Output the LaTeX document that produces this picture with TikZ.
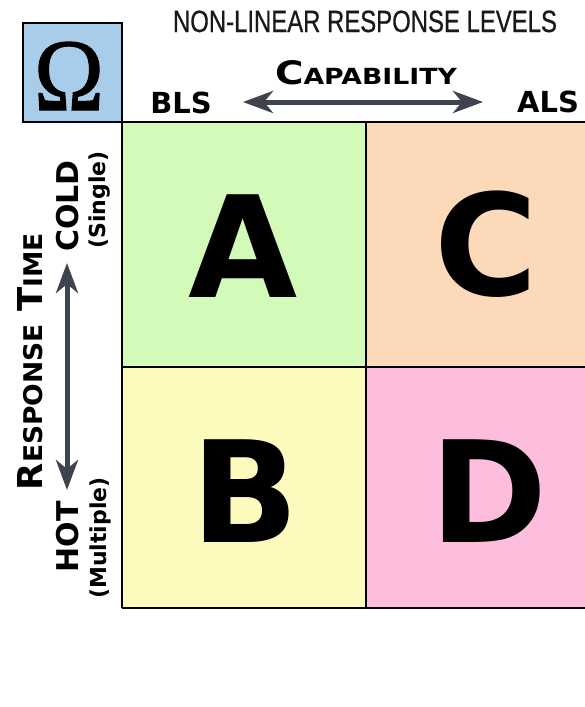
\documentclass[tikz,border=0pt]{standalone}
\usepackage{fontspec}
\usepackage{graphicx}
\setmainfont{Liberation Sans}
\newfontfamily\dv{DejaVu Sans}
\newfontfamily\tms{Liberation Serif}[FakeBold=1.2]
\newfontfamily\ttl{Liberation Sans}[FakeBold=0.6]
\usetikzlibrary{arrows.meta}
\definecolor{omegablue}{RGB}{167,205,234}
\definecolor{cellA}{RGB}{212,250,186}
\definecolor{cellC}{RGB}{252,218,185}
\definecolor{cellB}{RGB}{252,250,188}
\definecolor{cellD}{RGB}{252,190,220}
\definecolor{arrowgray}{RGB}{62,68,78}
\tikzset{
  lbl/.style={inner sep=0pt, outer sep=0pt, font=\dv\bfseries},
  gridline/.style={line width=2pt, draw=black},
  darrow/.style={line width=5pt, draw=arrowgray,
    {Stealth[length=30pt,width=22pt,inset=9pt]}-{Stealth[length=30pt,width=22pt,inset=9pt]}},
  bigletter/.style={inner sep=0pt, outer sep=0pt, anchor=base,
    font=\dv\bfseries\fontsize{141}{141}\selectfont},
}
\begin{document}
\begin{tikzpicture}[x=1pt,y=-1pt]
\useasboundingbox (0,0) rectangle (585,707);
\fill[white] (0,0) rectangle (585,707);
% cells
\fill[cellA] (122,122) rectangle (366,367);
\fill[cellC] (366,122) rectangle (585,367);
\fill[cellB] (122,367) rectangle (366,608);
\fill[cellD] (366,367) rectangle (585,608);
% grid lines
\draw[gridline] (122,122) -- (585,122);
\draw[gridline] (122,367) -- (585,367);
\draw[gridline] (122,608) -- (585,608);
\draw[gridline] (122,122) -- (122,608);
\draw[gridline] (366,122) -- (366,608);
% omega box
\node[draw=black, line width=2pt, fill=omegablue, minimum width=99pt, minimum height=99pt,
      inner sep=0pt, outer sep=0pt] (omegabox) at (72,72.5) {};
\node[inner sep=0pt, font=\tms] (omega) at (69,76) {\resizebox{70pt}{68pt}{\fontsize{100}{100}\selectfont Ω}};
% title
\node[inner sep=0pt, anchor=base, text=black!90] (title) at (365,32)
  {\resizebox{384pt}{21.5pt}{\ttl\fontsize{24}{24}\selectfont NON-LINEAR RESPONSE LEVELS}};
% capability
\node[lbl, anchor=base] (cap) at (366,84)
  {\resizebox{182pt}{24pt}{\fontsize{32}{32}\selectfont C\fontsize{22}{22}\selectfont APABILITY}};
\node[lbl, anchor=base, font=\dv\bfseries\fontsize{29}{29}\selectfont] (bls) at (181,113) {BLS};
\node[lbl, anchor=base, font=\dv\bfseries\fontsize{29}{29}\selectfont] (als) at (548,112) {ALS};
\coordinate (capL) at (243,102);
\coordinate (capR) at (483,102);
\draw[darrow] (capL) -- (capR);
% response time
\node[lbl, anchor=base, rotate=90] (rt) at (42,361.5)
  {\resizebox{257pt}{25pt}{\fontsize{32}{32}\selectfont R\fontsize{24}{24}\selectfont ESPONSE\fontsize{32}{32}\selectfont\ T\fontsize{24}{24}\selectfont IME}};
\node[lbl, anchor=base, rotate=90, font=\dv\bfseries\fontsize{30}{30}\selectfont] (cold) at (78,206) {COLD};
\node[lbl, anchor=base, rotate=90, font=\dv\bfseries\fontsize{30}{30}\selectfont] (hot) at (78,537) {HOT};
\node[lbl, rotate=90, font=\dv\bfseries\fontsize{22}{22}\selectfont] (single) at (100,200) {(Single)};
\node[lbl, rotate=90, font=\dv\bfseries\fontsize{22}{22}\selectfont] (multiple) at (100,538) {(Multiple)};
\coordinate (rtTop) at (67,263);
\coordinate (rtBot) at (67,490);
\draw[darrow] (rtTop) -- (rtBot);
% letters
\node[bigletter] (A) at (243.5,297) {A};
\node[bigletter] (C) at (486.5,295) {C};
\node[bigletter] (B) at (245,542) {B};
\node[bigletter] (D) at (489,542) {D};
\end{tikzpicture}
\end{document}
